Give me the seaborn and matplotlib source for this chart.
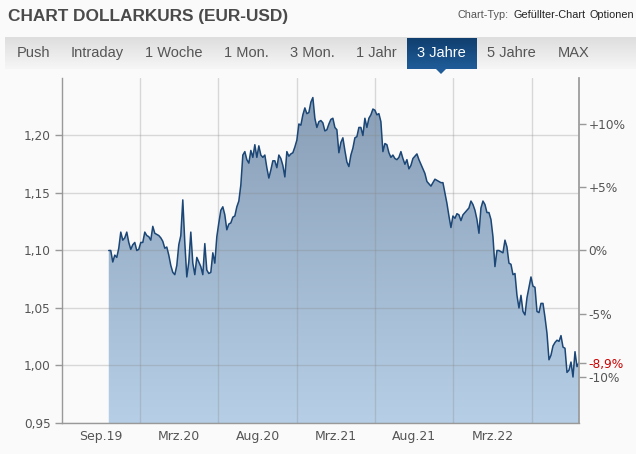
import numpy as np
import pandas as pd
import matplotlib
matplotlib.use("Agg")
import matplotlib.pyplot as plt
import matplotlib.dates as mdates
from matplotlib.colors import LinearSegmentedColormap
from matplotlib.patches import Polygon
import seaborn as sns

kurs_2019_20 = [1.100, 1.100, 1.090, 1.096, 1.094, 1.102, 1.116, 1.109, 1.111, 1.116,
                1.107, 1.101, 1.105, 1.107, 1.100, 1.101, 1.107, 1.107, 1.116, 1.113,
                1.112, 1.109, 1.121, 1.115, 1.114, 1.113, 1.111, 1.108, 1.102, 1.103,
                1.096, 1.087, 1.081, 1.079, 1.087, 1.105, 1.113, 1.144, 1.107, 1.077,
                1.090, 1.116, 1.089, 1.079, 1.094, 1.090, 1.086, 1.079, 1.106, 1.083,
                1.080, 1.081, 1.098, 1.089, 1.112, 1.124, 1.135, 1.138, 1.131, 1.118,
                1.123, 1.124, 1.129, 1.130, 1.138, 1.143, 1.157, 1.183, 1.186, 1.179,
                1.176, 1.187, 1.181, 1.192, 1.181, 1.191, 1.183, 1.181, 1.183]
kurs_2020_21 = [1.172, 1.163, 1.170, 1.178, 1.178, 1.172, 1.183, 1.180, 1.174, 1.164,
                1.186, 1.182, 1.184, 1.185, 1.190, 1.196, 1.210, 1.209, 1.218, 1.224,
                1.219, 1.220, 1.229, 1.233, 1.215, 1.207, 1.212, 1.213, 1.211, 1.204,
                1.205, 1.210, 1.214, 1.215, 1.207, 1.205, 1.185, 1.194, 1.198, 1.187,
                1.177, 1.173, 1.183, 1.189, 1.198, 1.199, 1.207, 1.207, 1.200, 1.215,
                1.207, 1.215, 1.218, 1.223, 1.222, 1.218, 1.219, 1.212, 1.186, 1.193,
                1.192, 1.185, 1.181, 1.183, 1.180, 1.179, 1.181, 1.186, 1.180, 1.175,
                1.179, 1.171, 1.174, 1.180, 1.182, 1.184, 1.179, 1.175]
kurs_2021_22 = [1.171, 1.167, 1.160, 1.158, 1.156, 1.159, 1.162, 1.161, 1.160, 1.159,
                1.159, 1.150, 1.141, 1.130, 1.120, 1.130, 1.128, 1.132, 1.131, 1.126,
                1.131, 1.133, 1.135, 1.137, 1.143, 1.140, 1.135, 1.127, 1.115, 1.137,
                1.143, 1.140, 1.133, 1.133, 1.127, 1.112, 1.086, 1.100, 1.100, 1.099,
                1.098, 1.109, 1.103, 1.089, 1.088, 1.079, 1.080, 1.061, 1.050, 1.061,
                1.047, 1.044, 1.059, 1.068, 1.077, 1.069, 1.068, 1.047, 1.046, 1.054,
                1.054, 1.042, 1.028, 1.005, 1.009, 1.017, 1.020, 1.022, 1.021, 1.026,
                1.016, 1.015, 0.994, 0.996, 1.003, 0.990, 1.012, 0.999, 1.0025]

start_datum = "2019-09-19"
end_datum = "2022-09-09"
achse_start = "2019-06-03"
x_label_daten = pd.date_range("2019-09-01", periods=6, freq="181D")
x_labels = ["Sep.19", "Mrz.20", "Aug.20", "Mrz.21", "Aug.21", "Mrz.22"]
y_ticks = [0.95, 1.00, 1.05, 1.10, 1.15, 1.20]
y_labels = ["0,95", "1,00", "1,05", "1,10", "1,15", "1,20"]
prozent_ticks = [10, 5, 0, -5, -10]
tabs = ["Push", "Intraday", "1 Woche", "1 Mon.", "3 Mon.", "1 Jahr", "3 Jahre", "5 Jahre", "MAX"]
tab_x = [17, 71, 145, 224, 290, 356, 417, 487, 558]
aktiver_tab = "3 Jahre"

kurs = np.array(kurs_2019_20 + kurs_2020_21 + kurs_2021_22)
daten = pd.date_range(start_datum, end_datum, periods=len(kurs))
df = pd.DataFrame({"datum": daten, "kurs": kurs})

W, H = 636, 454
sns.set_theme(style="white")
plt.rcParams["font.family"] = ["DejaVu Sans"]

fig = plt.figure(figsize=(W / 100, H / 100), dpi=100, facecolor="#fafafa")


def fx(px):
    return px / W


def fy(py):
    return 1 - py / H


# --- Kopfbereich ---
fig.text(fx(8), fy(17), "CHART DOLLARKURS (EUR-USD)", fontsize=12.4, fontweight="bold",
         color="#4a4a4a", family="Liberation Sans", va="center")
fig.text(fx(458), fy(15), "Chart-Typ:", fontsize=7.8, color="#555555", family="Liberation Sans", va="center")
fig.text(fx(514), fy(15), "Gefüllter-Chart", fontsize=7.8, color="#222222", family="Liberation Sans", va="center")
fig.text(fx(589), fy(15), "Optionen", fontsize=7.8, color="#222222", family="Liberation Sans", va="center")

bar_ax = fig.add_axes([fx(5), fy(69), 1 - fx(5), 32 / H])
grau = LinearSegmentedColormap.from_list("grau", ["#f6f6f6", "#dedede"])
bar_ax.imshow(np.linspace(0, 1, 50).reshape(-1, 1), cmap=grau, aspect="auto",
              extent=[0, 1, 0, 1], origin="lower")
bar_ax.axis("off")

akt_ax = fig.add_axes([fx(407), fy(69), 69 / W, 31 / H])
blau = LinearSegmentedColormap.from_list("blau", ["#1f5c98", "#103f6f"])
akt_ax.imshow(np.linspace(0, 1, 50).reshape(-1, 1), cmap=blau, aspect="auto",
              extent=[0, 1, 0, 1], origin="lower")
akt_ax.axis("off")
fig.patches.append(Polygon([[fx(436), fy(69)], [fx(446), fy(69)], [fx(441), fy(74)]],
                           closed=True, transform=fig.transFigure, facecolor="#1f5c98",
                           edgecolor="none"))

for name, x in zip(tabs, tab_x):
    fig.text(fx(x), fy(53), name, fontsize=10.5, family="Liberation Sans", va="center",
             color="white" if name == aktiver_tab else "#555555", zorder=5)

# --- Chart ---
ax = fig.add_axes([fx(62), fy(423), fx(579) - fx(62), (423 - 78) / H])
ax.set_facecolor("#fafafa")

sns.lineplot(data=df, x="datum", y="kurs", ax=ax, color="#1b4675", lw=1.1, zorder=4)
poly = ax.fill_between(df["datum"], df["kurs"], 0.9, facecolor="none", lw=0)

x0 = pd.Timestamp(achse_start)
x1 = pd.Timestamp(end_datum)
verlauf = LinearSegmentedColormap.from_list("verlauf", ["#b6cfe7", "#869cb4"])
im = ax.imshow(np.linspace(0, 1, 200).reshape(-1, 1), cmap=verlauf, aspect="auto",
               origin="lower", extent=[mdates.date2num(x0), mdates.date2num(x1), 0.95, 1.25],
               zorder=1)
im.set_clip_path(poly.get_paths()[0], transform=ax.transData)

ax.set_xlim(x0, x1)
ax.set_ylim(0.95, 1.25)
ax.set_xlabel("")
ax.set_ylabel("")

ax.set_yticks(y_ticks)
ax.set_yticklabels(y_labels)
ax.set_xticks(x_label_daten + pd.Timedelta(days=90))
ax.set_xticklabels([])
ax.set_xticks(x_label_daten, minor=True)
ax.set_xticklabels(x_labels, minor=True)
ax.tick_params(axis="x", which="both", length=0, labelsize=9, labelcolor="#555555", pad=5)
ax.tick_params(axis="y", left=True, length=5, width=1, color="#999999",
               labelsize=8.7, labelcolor="#555555", pad=3)

ax.grid(True, which="major", color="#888888", alpha=0.3, lw=1)
ax.set_axisbelow(False)
for s in ["left", "bottom"]:
    ax.spines[s].set_color("#999999")
    ax.spines[s].set_linewidth(1)
ax.spines["top"].set_visible(False)
ax.spines["right"].set_visible(False)

# --- rechte Achse in Prozent ---
basis = kurs[0]
letzte = kurs[-1]
letzte_pct = (letzte / basis - 1) * 100
ax2 = ax.twinx()
ax2.set_ylim(0.95, 1.25)
r_ticks = [basis * (1 + p / 100) for p in prozent_ticks] + [letzte]
r_labels = [("+" if p > 0 else "") + f"{p}%" for p in prozent_ticks] + \
           [f"{letzte_pct:.1f}%".replace(".", ",")]
ax2.set_yticks(r_ticks)
ax2.set_yticklabels(r_labels)
ax2.tick_params(axis="y", right=True, length=5, width=1, color="#999999",
                labelsize=8.7, labelcolor="#555555", pad=2)
rot = ax2.yaxis.get_major_ticks()[-1]
rot.tick2line.set_color("#cc0000")
rot.label2.set_color("#cc0000")
for s in ["left", "top", "bottom"]:
    ax2.spines[s].set_visible(False)
ax2.spines["right"].set_color("#999999")
ax2.grid(False)

fig.savefig("out.png", dpi=100, facecolor=fig.get_facecolor())
